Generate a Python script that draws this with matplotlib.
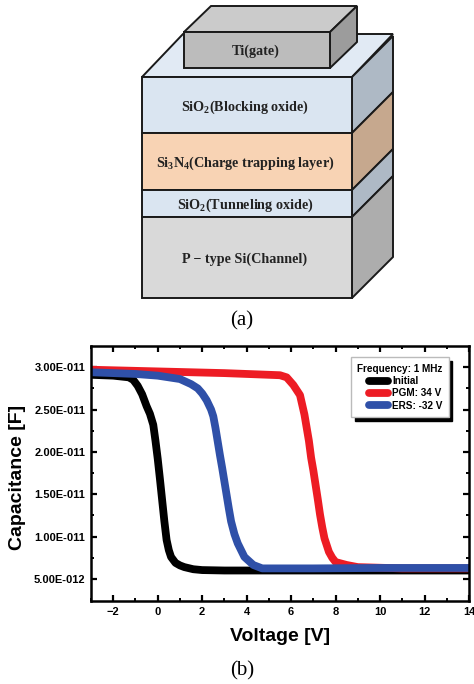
import matplotlib
matplotlib.use("Agg")
import matplotlib.pyplot as plt
from matplotlib.patches import Polygon

W, H = 474, 684

# C-V curves, voltage in V, capacitance in units of 1e-12 F
initial_v = [-3, -2, -1.3, -1.1, -0.9, -0.7, -0.5, -0.35, -0.2, -0.1, 0, 0.1, 0.2, 0.3, 0.4, 0.5, 0.6, 0.8, 1.0, 1.2, 1.6, 2, 3, 5, 8, 11, 14]
initial_c = [29.1, 29.0, 28.8, 28.5, 27.8, 26.8, 25.4, 24.5, 23.2, 21.3, 19.2, 16.8, 14.3, 11.8, 9.6, 8.4, 7.6, 6.9, 6.6, 6.4, 6.15, 6.05, 6.0, 6.0, 6.0, 6.0, 6.0]
pgm_v = [-3, 0, 3, 5, 5.5, 5.8, 6.1, 6.4, 6.6, 6.8, 6.9, 7.0, 7.1, 7.2, 7.3, 7.4, 7.5, 7.7, 7.85, 8, 8.5, 9, 11, 14]
pgm_c = [29.7, 29.5, 29.3, 29.1, 29.05, 28.8, 27.9, 26.7, 24.4, 21.3, 19.3, 17.8, 16.1, 14.4, 12.6, 11.1, 9.8, 8.2, 7.5, 7.0, 6.65, 6.4, 6.25, 6.25]
ers_v = [-3, -1, 0, 1, 1.5, 1.8, 2.0, 2.2, 2.4, 2.5, 2.6, 2.7, 2.8, 2.9, 3.0, 3.1, 3.2, 3.3, 3.45, 3.6, 3.9, 4.3, 4.7, 7, 10, 14]
ers_c = [29.4, 29.2, 29.0, 28.6, 28.0, 27.5, 26.9, 26.1, 25.0, 24.2, 22.8, 21.2, 19.6, 18.1, 16.5, 14.9, 13.3, 11.8, 10.3, 9.2, 7.6, 6.65, 6.25, 6.25, 6.3, 6.3]

x_ticks = [-2, 0, 2, 4, 6, 8, 10, 12, 14]
y_ticks = [5, 10, 15, 20, 25, 30]
y_tick_labels = ["5.00E-012", "1.00E-011", "1.50E-011", "2.00E-011", "2.50E-011", "3.00E-011"]

# stack layers: label, top y, bottom y, front colour, side colour
layers = [
    (r"$\mathbf{SiO_2}$(Blocking oxide)", 77, 133, "#dae5f1", "#aeb9c5"),
    (r"$\mathbf{Si_3N_4}$(Charge trapping layer)", 133, 190, "#f8d3b4", "#c6a88e"),
    (r"$\mathbf{SiO_2}$(Tunneling oxide)", 190, 217, "#dae5f1", "#aeb9c5"),
    ("P − type Si(Channel)", 217, 298, "#d9d9d9", "#adadad"),
]

plt.rcParams["mathtext.fontset"] = "custom"
plt.rcParams["mathtext.bf"] = "Liberation Serif:bold"
plt.rcParams["font.family"] = "Liberation Sans"

fig = plt.figure(figsize=(W / 100, H / 100), dpi=100)

# schematic, drawn in pixel coordinates of the figure
bg = fig.add_axes([0, 0, 1, 1])
bg.set_xlim(0, W)
bg.set_ylim(H, 0)
bg.axis("off")


def face(pts, color):
    bg.add_patch(Polygon(pts, closed=True, fc=color, ec="#1a1a1a", lw=1.4, joinstyle="miter"))


x0, x1, dx, dy = 142, 352, 41, 41
face([(x0, 77), (x1, 77), (x1 + dx, 77 - dy - 2), (x0 + dx, 77 - dy - 2)], "#e1eaf4")
for label, top, bottom, front, side in layers:
    face([(x1, top), (x1 + dx, top - dy), (x1 + dx, bottom - dy), (x1, bottom)], side)
    face([(x0, top), (x1, top), (x1, bottom), (x0, bottom)], front)
    bg.text(245, (top + bottom) / 2 + 2, label, family="Liberation Serif", weight="bold",
            fontsize=10.2, color="#222222", ha="center", va="center")

# gate block
face([(184, 32), (330, 32), (357, 6), (211, 6)], "#cbcbcb")
face([(330, 32), (357, 6), (357, 42), (330, 68)], "#9c9c9c")
face([(184, 32), (330, 32), (330, 68), (184, 68)], "#bcbcbc")
bg.text(255.5, 51, "Ti(gate)", family="Liberation Serif", weight="bold", fontsize=10.2,
        color="#222222", ha="center", va="center")

bg.text(242, 321, "(a)", family="Liberation Serif", fontsize=15, ha="center", va="center")
bg.text(242, 671, "(b)", family="Liberation Serif", fontsize=15, ha="center", va="center")

# C-V plot
ax = fig.add_axes([91 / W, 1 - 601 / H, 378 / W, 255 / H])
ax.plot(initial_v, initial_c, color="black", lw=5.6, label="Initial", solid_capstyle="round")
ax.plot(pgm_v, pgm_c, color="#ed1c24", lw=5.6, label="PGM: 34 V", solid_capstyle="round")
ax.plot(ers_v, ers_c, color="#2f50a8", lw=5.6, label="ERS: -32 V", solid_capstyle="round")

ax.set_xlim(-3, 14)
ax.set_ylim(2.4, 32.5)
ax.set_xticks(x_ticks)
ax.set_yticks(y_ticks)
ax.set_yticklabels(y_tick_labels)
ax.minorticks_on()
ax.set_xticks(range(-3, 15, 2), minor=True)
ax.set_yticks([7.5, 12.5, 17.5, 22.5, 27.5], minor=True)
ax.tick_params(which="major", direction="in", length=4, width=1.6, top=True, right=True,
               labelsize=8, pad=4)
ax.tick_params(which="minor", direction="in", length=2.5, width=1.4, top=True, right=True)
for lab in ax.get_xticklabels() + ax.get_yticklabels():
    lab.set_fontweight("bold")
for spine in ax.spines.values():
    spine.set_linewidth(1.8)
ax.set_xlabel("Voltage [V]", fontsize=14, fontweight="bold", labelpad=8)
ax.set_ylabel("Capacitance [F]", fontsize=14, fontweight="bold")
ax.yaxis.set_label_coords(-0.172, 0.484)

leg = ax.legend(title="Frequency: 1 MHz", loc="upper right", bbox_to_anchor=(0.947, 0.955),
                prop={"size": 7.2, "weight": "bold"}, title_fontproperties={"size": 7.2, "weight": "bold"},
                fancybox=False, framealpha=1, edgecolor="#bbbbbb", handlelength=1.9,
                handletextpad=0.45, labelspacing=0.24, borderaxespad=0, borderpad=0.62,
                alignment="right", shadow={"ox": 2.5, "oy": -2.5, "color": "black", "alpha": 1})
leg.get_frame().set_linewidth(1)

fig.savefig("out.png", dpi=100)
